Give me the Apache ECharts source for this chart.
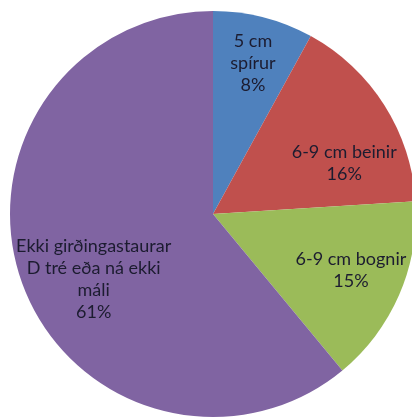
<!DOCTYPE html>
<html><head><meta charset="utf-8">
<script src="https://cdn.jsdelivr.net/npm/echarts@6/dist/echarts.min.js"></script>
<style>html,body{margin:0;padding:0;background:#fff}#c{width:412px;height:419px}</style>
</head><body><div id="c"></div>
<script>
const categories = ['5 cm\nspírur', '6-9 cm beinir', '6-9 cm bognir', 'Ekki girðingastaurar\nD tré eða ná ekki\nmáli'];
const values = [8, 16, 15, 61];
const colors = ['#4F81BD', '#C0504D', '#9BBB59', '#8064A2'];
const labelOffsets = [[14, -50], [43, 5], [42, 15], [-21, 30]];

const chart = echarts.init(document.getElementById('c'));
chart.setOption({
  animation: false,
  series: [{
    type: 'pie',
    center: [213, 214],
    radius: [0, 203],
    startAngle: 90,
    clockwise: true,
    silent: true,
    itemStyle: { borderWidth: 0 },
    label: {
      show: true,
      position: 'inside',
      formatter: p => p.name + '\n' + p.value + '%',
      fontFamily: 'Lato',
      fontSize: 18,
      lineHeight: 22,
      color: '#1c1c30',
      align: 'center'
    },
    labelLine: { show: false },
    data: categories.map((n, i) => ({
      name: n, value: values[i],
      itemStyle: { color: colors[i] },
      label: { offset: labelOffsets[i] }
    }))
  }]
});
</script></body></html>
